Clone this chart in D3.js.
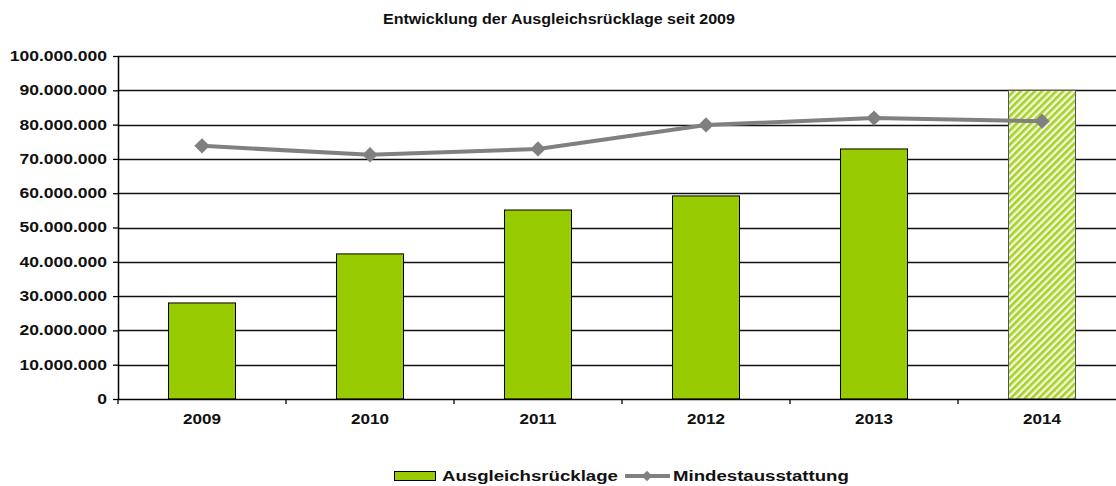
<!DOCTYPE html>
<html>
<head>
<meta charset="utf-8">
<title>Entwicklung der Ausgleichsrücklage seit 2009</title>
<script src="https://d3js.org/d3.v7.min.js"></script>
<style>
  body { margin: 0; background: #fff; }
  text { font-family: "Liberation Sans", Arial, sans-serif; font-weight: bold; fill: #111; }
</style>
</head>
<body>
<svg id="chart" width="1116" height="486"></svg>
<script>
// data
const years = ["2009", "2010", "2011", "2012", "2013", "2014"];
const ruecklage = [28000000, 42300000, 55100000, 59200000, 72900000, 90000000];
const mindest = [73800000, 71200000, 72900000, 79900000, 81900000, 81000000];
const yTicks = [0, 10000000, 20000000, 30000000, 40000000, 50000000, 60000000, 70000000, 80000000, 90000000, 100000000];

const svg = d3.select("#chart");

const plotLeft = 118, plotRight = 1126, plotTop = 56, plotBottom = 399;

const x = d3.scaleBand().domain(years).range([plotLeft, plotRight]);
const y = d3.scaleLinear().domain([0, 100000000]).range([plotBottom, plotTop]);

const fmt = d => d3.format(",")(d).replace(/,/g, ".");

// text in the picture is stretched horizontally, so fit each label to its measured width
function stretch(sel, sx) {
  sel.each(function() {
    const t = d3.select(this);
    const w = this.getComputedTextLength();
    t.attr("textLength", w * sx).attr("lengthAdjust", "spacingAndGlyphs");
  });
}

// hatch pattern for the planned year
const defs = svg.append("defs");
const pat = defs.append("pattern")
  .attr("id", "hatch")
  .attr("patternUnits", "userSpaceOnUse")
  .attr("width", 5).attr("height", 5)
  .attr("patternTransform", "rotate(45)");
pat.append("rect").attr("width", 5).attr("height", 5).attr("fill", "#f2f8d8");
pat.append("rect").attr("width", 2.6).attr("height", 5).attr("fill", "#a6d12a");

// title
svg.append("text")
  .attr("x", 559).attr("y", 24)
  .attr("text-anchor", "middle")
  .style("font-size", "14px")
  .attr("textLength", 352).attr("lengthAdjust", "spacingAndGlyphs")
  .text("Entwicklung der Ausgleichsrücklage seit 2009");

// grid lines
svg.append("g")
  .selectAll("line")
  .data(yTicks.slice(1))
  .enter().append("line")
  .attr("x1", plotLeft).attr("x2", plotRight)
  .attr("y1", d => Math.round(y(d)) + 0.5).attr("y2", d => Math.round(y(d)) + 0.5)
  .attr("stroke", "#111").attr("stroke-width", 1.3);

// y axis
const yAxis = svg.append("g")
  .attr("transform", "translate(" + plotLeft + ",0)")
  .call(d3.axisLeft(y).tickValues(yTicks).tickFormat(fmt).tickSize(5).tickSizeOuter(0));
yAxis.select(".domain").attr("stroke", "#000").attr("stroke-width", 1.5);
yAxis.selectAll(".tick line").attr("stroke", "#000").attr("stroke-width", 1.3);
yAxis.selectAll(".tick text")
  .attr("x", -11)
  .attr("fill", "#111")
  .style("font-size", "14px")
  .style("font-weight", "bold")
  .style("font-family", "'Liberation Sans', Arial, sans-serif")
  .call(stretch, 1.25);

// bars
svg.append("g")
  .selectAll("rect")
  .data(years)
  .enter().append("rect")
  .attr("x", d => x(d) + x.bandwidth() / 2 - 33.5)
  .attr("width", 67)
  .attr("y", (d, i) => y(ruecklage[i]))
  .attr("height", (d, i) => plotBottom - y(ruecklage[i]))
  .attr("fill", (d, i) => i === years.length - 1 ? "url(#hatch)" : "#99cc00")
  .attr("stroke", (d, i) => i === years.length - 1 ? "#555" : "#000")
  .attr("stroke-width", 1);

// x axis
const xAxis = svg.append("g")
  .attr("transform", "translate(0," + plotBottom + ")")
  .call(d3.axisBottom(x).tickSize(0).tickPadding(15));
xAxis.select(".domain").attr("stroke", "#000").attr("stroke-width", 1.5);
xAxis.selectAll(".tick text")
  .attr("fill", "#111")
  .style("font-size", "14px")
  .style("font-weight", "bold")
  .style("font-family", "'Liberation Sans', Arial, sans-serif")
  .call(stretch, 1.22);
// category separator ticks
svg.append("g")
  .selectAll("line")
  .data(years)
  .enter().append("line")
  .attr("x1", d => x(d)).attr("x2", d => x(d))
  .attr("y1", plotBottom).attr("y2", plotBottom + 5)
  .attr("stroke", "#000").attr("stroke-width", 1.3);

// line
const cx = d => x(d) + x.bandwidth() / 2;
const line = d3.line()
  .x(d => cx(d[0]))
  .y(d => y(d[1]));
const pts = years.map((d, i) => [d, mindest[i]]);
svg.append("path")
  .datum(pts)
  .attr("d", line)
  .attr("fill", "none")
  .attr("stroke", "#808080")
  .attr("stroke-width", 4);

svg.append("g")
  .selectAll("path")
  .data(pts)
  .enter().append("path")
  .attr("transform", d => "translate(" + cx(d[0]) + "," + y(d[1]) + ")")
  .attr("d", d3.symbol(d3.symbolDiamond2, 150))
  .attr("fill", "#808080");

// legend
const lg = svg.append("g");
lg.append("rect")
  .attr("x", 394.5).attr("y", 471.5).attr("width", 41).attr("height", 9)
  .attr("fill", "#99cc00").attr("stroke", "#000").attr("stroke-width", 1);
lg.append("text")
  .attr("x", 442).attr("y", 481)
  .style("font-size", "14px")
  .text("Ausgleichsrücklage")
  .call(stretch, 1.33);
lg.append("line")
  .attr("x1", 625).attr("x2", 670).attr("y1", 476).attr("y2", 476)
  .attr("stroke", "#808080").attr("stroke-width", 4);
lg.append("path")
  .attr("transform", "translate(647,476)")
  .attr("d", d3.symbol(d3.symbolDiamond2, 70))
  .attr("fill", "#808080");
lg.append("text")
  .attr("x", 673).attr("y", 481)
  .style("font-size", "14px")
  .text("Mindestausstattung")
  .call(stretch, 1.33);
</script>
</body>
</html>
